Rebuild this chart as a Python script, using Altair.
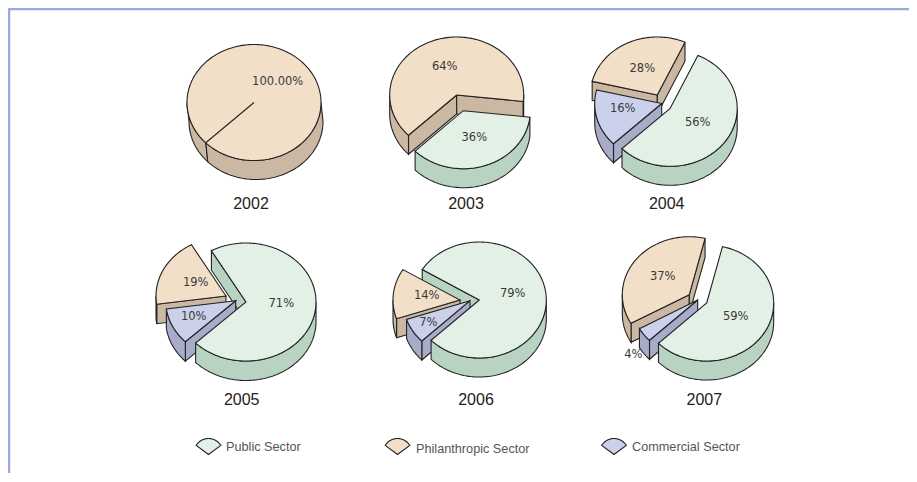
import math
import altair as alt
import pandas as pd

# ---- data ----
years = ["2002", "2003", "2004", "2005", "2006", "2007"]
commercial = [0, 0, 16, 10, 7, 4]
philanthropic = [100, 64, 28, 19, 14, 37]
public = [0, 36, 56, 71, 79, 59]
value_labels = {
    "2002": ["", "100.00%", ""],
    "2003": ["", "64%", "36%"],
    "2004": ["16%", "28%", "56%"],
    "2005": ["10%", "19%", "71%"],
    "2006": ["7%", "14%", "79%"],
    "2007": ["4%", "37%", "59%"],
}
legend_names = ["Public Sector", "Philanthropic Sector", "Commercial Sector"]

# ---- styling / layout ----
TOP = {"C": "#cbd1ea", "P": "#f2dfc7", "G": "#e3f0e6"}
WALL = {"C": "#a8acc8", "P": "#cbb8a3", "G": "#b8d3c1"}
START = 226.0
W, H = 901, 465
layout = {
    "2002": dict(rx=67, ry=58, d=19, ex=2, apex={"P": (254, 102.5)},
                 order=[("P", "rwt")],
                 lab={"P": (277.7, 81.7)}, yr=(251, 203.5)),
    "2003": dict(rx=67, ry=58, d=19, ex=0, apex={"P": (456.7, 95), "G": (463.3, 110.7)},
                 order=[("P", "rwt"), ("G", "rwt")],
                 lab={"P": (444.7, 66.7), "G": (474.3, 137.7)}, yr=(466, 203.5)),
    "2004": dict(rx=67, ry=58, d=19, ex=0,
                 apex={"P": (657.3, 95), "C": (661.7, 103.5), "G": (670.2, 108.3)},
                 order=[("P", "rwt"), ("C", "rwt"), ("G", "rwt")],
                 lab={"P": (642.3, 69.3), "C": (622.7, 109.3), "G": (697.7, 123.3)}, yr=(666.7, 203.5)),
    "2005": dict(rx=70, ry=59, d=19.5, ex=0,
                 apex={"P": (226, 296), "C": (235.7, 300.7), "G": (246, 302)},
                 order=[("G", "r"), ("P", "rwt"), ("C", "rwt"), ("G", "wt")],
                 lab={"P": (195.7, 283.3), "C": (193.7, 317.3), "G": (281.3, 304.3)}, yr=(241.7, 400)),
    "2006": dict(rx=67, ry=58, d=19, ex=0,
                 apex={"P": (460, 300), "C": (470, 300.7), "G": (479.3, 300)},
                 order=[("G", "r"), ("P", "rwt"), ("C", "rwt"), ("G", "wt")],
                 lab={"P": (426.7, 296), "C": (428.3, 322.7), "G": (512.7, 294)}, yr=(476, 399.5)),
    "2007": dict(rx=67, ry=58, d=19, ex=0,
                 apex={"P": (689.3, 294.7), "C": (697.7, 300), "G": (706.7, 303)},
                 order=[("P", "rwt"), ("C", "rwt"), ("G", "rwt")],
                 lab={"P": (662.7, 277.3), "C": (633.3, 355.3), "G": (735.7, 317.3)}, yr=(704.3, 399.5)),
}
legend_items = [
    (legend_names[0], "G", 208.5, 226, 446.5),
    (legend_names[1], "P", 397.5, 416, 449),
    (legend_names[2], "C", 614, 632, 447),
]

rows = []
pid = [0]


def add_poly(pts, fill):
    pid[0] += 1
    for i, (x, y) in enumerate(pts):
        rows.append({"x": x, "y": y, "poly": pid[0], "ord": i, "fill": fill})


def pt(a, t, rx, ry):
    r = math.radians(t)
    return (a[0] + rx * math.sin(r), a[1] - ry * math.cos(r))


def arc(a, t0, t1, rx, ry):
    n = max(2, int(abs(t1 - t0) / 1.5) + 1)
    return [pt(a, t0 + (t1 - t0) * i / n, rx, ry) for i in range(n + 1)]


def radial_visible(a, t_edge, t_in, rx, ry):
    p = pt(a, t_edge, rx, ry)
    q = pt(a, t_in, rx / 2, ry / 2)
    if abs(p[0] - a[0]) < 1e-6:
        return False
    yl = a[1] + (p[1] - a[1]) * (q[0] - a[0]) / (p[0] - a[0])
    return q[1] < yl


def draw_slice(key, a, t0, t1, L, parts):
    rx, ry, d, ex = L["rx"], L["ry"], L["d"], L["ex"]
    if "r" in parts and (t1 - t0) < 359:
        for te, ti in ((t0, t0 + 3), (t1, t1 - 3)):
            if radial_visible(a, te, ti, rx, ry):
                p = pt(a, te, rx, ry)
                add_poly([a, p, (p[0] + ex, p[1] + d), (a[0] + ex, a[1] + d)], WALL[key])
    if "w" in parts:
        for lo, hi in ((90, 270), (450, 630)):
            s, e = max(t0, lo), min(t1, hi)
            if e > s:
                top = arc(a, s, e, rx, ry)
                bot = [(x + ex, y + d) for x, y in reversed(top)]
                add_poly(top + bot, WALL[key])
    if "t" in parts:
        add_poly([a] + arc(a, t0, t1, rx, ry), TOP[key])


text_rows = []
for i, yr in enumerate(years):
    L = layout[yr]
    spans = {}
    t = START
    for key, share in (("C", commercial[i]), ("P", philanthropic[i]), ("G", public[i])):
        if share > 0:
            spans[key] = (t, t + share * 3.6)
            t += share * 3.6
    for key, parts in L["order"]:
        draw_slice(key, L["apex"][key], *spans[key], L, parts)
    for key, lab in zip(("C", "P", "G"), value_labels[yr]):
        if lab:
            x, y = L["lab"][key]
            text_rows.append({"x": x, "y": y, "t": lab})

# legend fans
legend_rows = []
for name, key, ax, tx, ty in legend_items:
    add_poly([(ax, 454.5)] + arc((ax, 454.5), -55, 55, 15, 16), TOP[key])
    legend_rows.append({"x": tx, "y": ty, "t": name})

year_rows = [{"x": layout[y]["yr"][0], "y": layout[y]["yr"][1], "t": y} for y in years]
frame_rows = [{"x": 8.5, "y": 8 + H, "ord": 0}, {"x": 8.5, "y": 8.5, "ord": 1}, {"x": 8 + W, "y": 8.5, "ord": 2}]

X = alt.X("x:Q", scale=alt.Scale(domain=[8, 8 + W], nice=False, zero=False), axis=None)
Y = alt.Y("y:Q", scale=alt.Scale(domain=[8 + H, 8], nice=False, zero=False), axis=None)

polys = alt.Chart(pd.DataFrame(rows)).mark_line(
    interpolate="linear-closed", strokeWidth=1.1, strokeJoin="miter"
).encode(
    x=X, y=Y, detail="poly:N", order="ord:Q",
    fill=alt.Fill("fill:N", scale=None),
    stroke=alt.value("#222222"),
)

frame = alt.Chart(pd.DataFrame(frame_rows)).mark_line(
    stroke="#9aa8dc", strokeWidth=3.5
).encode(x=X, y=Y, order="ord:Q")

vals = alt.Chart(pd.DataFrame(text_rows)).mark_text(
    font="DejaVu Sans", fontSize=11.5, color="#3a3a3a", align="center", baseline="middle"
).encode(x=X, y=Y, text="t:N")

yrs = alt.Chart(pd.DataFrame(year_rows)).mark_text(
    font="Liberation Sans", fontSize=16, color="#222222", align="center", baseline="middle"
).encode(x=X, y=Y, text="t:N")

legs = alt.Chart(pd.DataFrame(legend_rows)).mark_text(
    font="Liberation Sans", fontSize=12.7, color="#555555", align="left", baseline="middle"
).encode(x=X, y=Y, text="t:N")

chart = alt.layer(frame, polys, vals, yrs, legs).properties(
    width=W, height=H, padding=0, background="white",
    autosize=alt.AutoSizeParams(type="none", contains="padding"),
).configure_view(stroke=None)

chart.save("out.html", embed_options={"renderer": "svg", "actions": False})
